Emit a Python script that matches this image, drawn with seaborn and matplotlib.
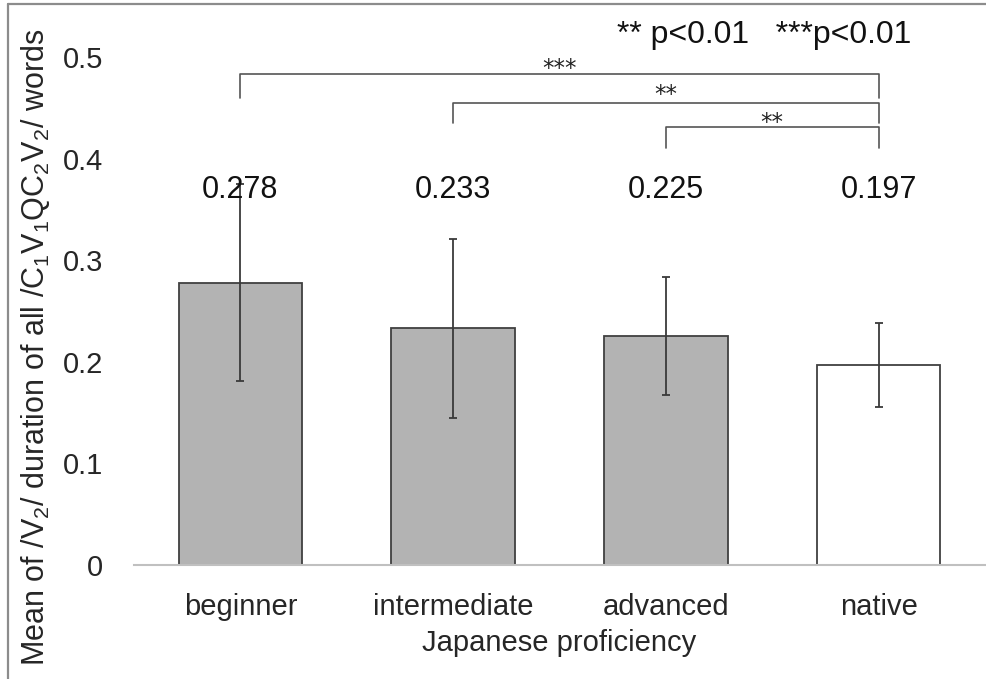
import matplotlib
matplotlib.use("Agg")
import matplotlib.pyplot as plt
from matplotlib.lines import Line2D
import seaborn as sns

# Data
categories = ["beginner", "intermediate", "advanced", "native"]
means = [0.278, 0.233, 0.225, 0.197]
errors = [0.097, 0.088, 0.058, 0.041]
bar_colors = ["#b3b3b3", "#b3b3b3", "#b3b3b3", "#ffffff"]
y_ticks = [0, 0.1, 0.2, 0.3, 0.4, 0.5]
y_tick_labels = ["0", "0.1", "0.2", "0.3", "0.4", "0.5"]

# significance brackets: (left category index, right category index, top, drop, stars, star baseline)
brackets = [
    (0, 3, 0.483, 0.460, "***", 0.482),
    (1, 3, 0.455, 0.435, "**", 0.457),
    (2, 3, 0.431, 0.410, "**", 0.429),
]
legend_note = "** p<0.01   ***p<0.01"

sns.set_style("white")
plt.rcParams["font.family"] = ["Liberation Sans", "DejaVu Sans"]
plt.rcParams["mathtext.fontset"] = "custom"
plt.rcParams["mathtext.rm"] = "Liberation Sans"
plt.rcParams["mathtext.it"] = "Liberation Sans"

fig = plt.figure(figsize=(9.86, 6.79), dpi=100)
ax = fig.add_axes([134 / 986, 114 / 679, 851 / 986, 508 / 679])

sns.barplot(x=categories, y=means, hue=categories, palette=bar_colors,
            legend=False, width=0.58, edgecolor="#404040", linewidth=1.3,
            saturation=1, ax=ax)
ax.errorbar(x=list(range(len(categories))), y=means, yerr=errors, fmt="none",
            ecolor="#3a3a3a", elinewidth=1.3, capsize=3, capthick=1.3)

for i, v in enumerate(means):
    ax.text(i, 0.369, f"{v:.3f}", ha="center", va="center", fontsize=22,
            color="#111111")

for left, right, top, drop, stars, base in brackets:
    ax.plot([left, left, right, right], [drop, top, top, drop],
            color="#555555", lw=1.2, clip_on=False)
    ax.text((left + right) / 2, base, stars, ha="center", va="baseline",
            fontsize=16.5, family="DejaVu Sans", color="#222222", clip_on=False)

ax.text(2.461, 0.522, legend_note, ha="center", va="center", fontsize=23,
        color="#111111", clip_on=False)

ax.set_xlim(-0.5, 3.5)
ax.set_ylim(0, 0.5)
ax.set_yticks(y_ticks)
ax.set_yticklabels(y_tick_labels)
ax.tick_params(axis="y", length=0, pad=22, labelsize=21)
ax.tick_params(axis="x", length=0, pad=20, labelsize=21)
for s in ["top", "right", "left"]:
    ax.spines[s].set_visible(False)
ax.spines["bottom"].set_color("#c0c0c0")
ax.spines["bottom"].set_linewidth(1.5)

ax.set_xlabel("Japanese proficiency", fontsize=21, labelpad=6)
ax.set_ylabel(r"Mean of /V$_2$/ duration of all /C$_1$V$_1$QC$_2$V$_2$/ words",
              fontsize=22)
ax.yaxis.label.set_va("center")
ax.yaxis.set_label_coords(-0.116, 0.429)

# thin frame on the left and top of the figure
fig.add_artist(Line2D([8 / 986, 8 / 986], [0, 1 - 4 / 679],
                      transform=fig.transFigure, color="#8c8c8c", lw=1.6))
fig.add_artist(Line2D([8 / 986, 1], [1 - 4 / 679, 1 - 4 / 679],
                      transform=fig.transFigure, color="#8c8c8c", lw=1.6))

fig.savefig("out.png", dpi=100)
